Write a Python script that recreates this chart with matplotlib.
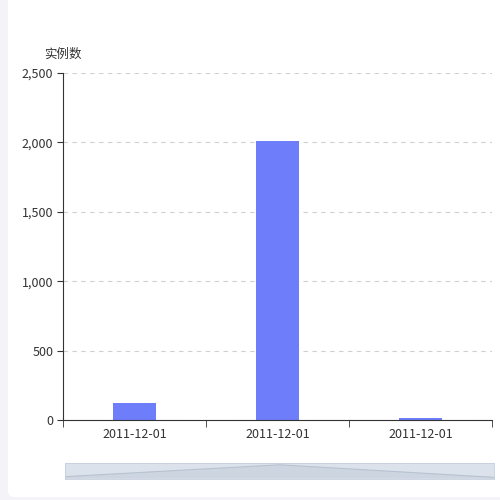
import matplotlib.pyplot as plt
from matplotlib.patches import FancyBboxPatch

plt.rcParams['font.family'] = ['Noto Sans CJK SC', 'DejaVu Sans']

categories = ["2011-12-01", "2011-12-01", "2011-12-01"]
values = [125, 2010, 12]
y_ticks = [0, 500, 1000, 1500, 2000, 2500]

W, H = 500, 500
fig = plt.figure(figsize=(5, 5), dpi=100)
fig.patch.set_facecolor("#f3f3f8")
# white card behind everything
card = FancyBboxPatch((8 / W, 3 / H), 1.0, 1.05, boxstyle="round,pad=0,rounding_size=0.012",
                      transform=fig.transFigure, facecolor="white", edgecolor="none", zorder=-10)
card.set_clip_on(False)
fig.patches.append(card)

ax = fig.add_axes([63 / W, (H - 420) / H, (492 - 63) / W, (420 - 73) / H])
ax.set_facecolor("none")
x = range(len(categories))
ax.bar(x, values, width=0.3, color="#6e7dfa")
ax.set_xlim(-0.5, 2.5)
ax.set_ylim(0, 2500)
ax.set_yticks(y_ticks)
ax.set_yticklabels([f"{v:,}" for v in y_ticks], color="#333", fontsize=9)
ax.set_xticks(list(x))
ax.set_xticklabels(categories, color="#333", fontsize=9)
ax.set_xticks([-0.5, 0.5, 1.5, 2.5], minor=True)
ax.tick_params(axis="x", which="major", length=0, pad=6)
ax.tick_params(axis="x", which="minor", length=5, color="#333")
ax.tick_params(axis="y", length=4, color="#333", pad=3)
ax.yaxis.grid(True, linestyle=(0, (4, 4)), color="#d0d0d0", linewidth=0.8)
ax.set_axisbelow(True)
for s in ["top", "right"]:
    ax.spines[s].set_visible(False)
ax.spines["left"].set_color("#333")
ax.spines["bottom"].set_color("#333")
ax.text(-0.045, 1.045, "实例数", transform=ax.transAxes, fontsize=9, color="#333", ha="left")

# data zoom slider
sl = fig.add_axes([65 / W, (H - 479) / H, (494 - 65) / W, 16 / H])
sl.set_facecolor("#dce2eb")
sl.fill_between(list(x), values, 0, color="#cdd5e0")
sl.plot(list(x), values, color="#b8c3d2", linewidth=0.8)
sl.set_xlim(0, 2)
sl.set_ylim(-250, 2300)
sl.set_xticks([])
sl.set_yticks([])
for s in sl.spines.values():
    s.set_color("#c5cfdd")
    s.set_linewidth(0.6)

fig.savefig("out.png", dpi=100)
